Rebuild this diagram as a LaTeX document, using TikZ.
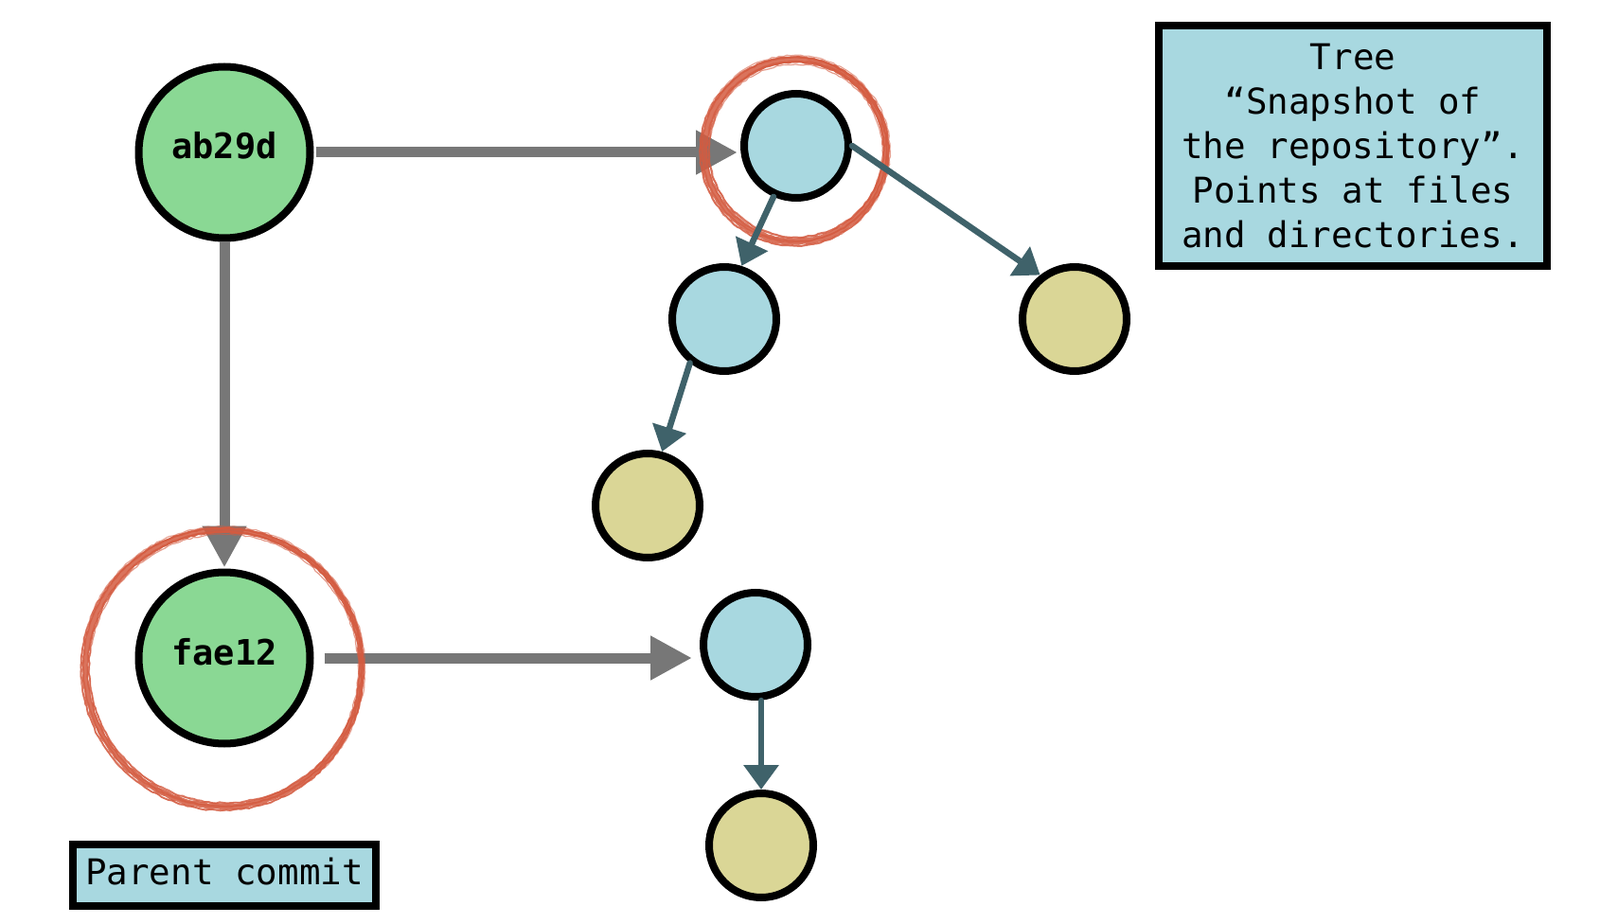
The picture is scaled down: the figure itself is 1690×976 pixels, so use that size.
\documentclass[tikz,border=0pt]{standalone}
\usepackage{fontspec}
\newfontfamily\monof{DejaVu Sans Mono}
\usetikzlibrary{arrows.meta,calc,decorations.pathmorphing}
\definecolor{commitgreen}{HTML}{8AD894}
\definecolor{treeblue}{HTML}{A8D8E0}
\definecolor{blobyellow}{HTML}{DAD696}
\definecolor{arrowgray}{HTML}{777777}
\definecolor{arrowteal}{HTML}{3F626A}
\definecolor{ringred}{HTML}{D45B40}
\tikzset{
  commit/.style={circle, draw=black, line width=8pt, fill=commitgreen, minimum size=181pt,
    inner sep=0pt, outer sep=4pt, font=\monof\bfseries\fontsize{37}{42}\selectfont,
    text height=27pt, text depth=13pt},
  treenode/.style={circle, draw=black, line width=8pt, fill=treeblue, minimum size=110pt,
    inner sep=0pt, outer sep=4pt},
  blobnode/.style={treenode, fill=blobyellow},
  notebox/.style={rectangle, draw=black, line width=8pt, fill=treeblue, inner sep=0pt, outer sep=4pt},
  grayarrow/.style={draw=arrowgray, line width=11pt, -{Triangle[length=44pt,width=44pt]}},
  tealarrow/.style={draw=arrowteal, line width=6.5pt, line cap=round, -{Triangle[length=26pt,width=36pt]}},
  ringline/.style={draw=ringred, decorate, decoration={random steps, segment length=4pt, amplitude=0.7pt}}
}
\begin{document}
\begin{tikzpicture}[x=1pt,y=-1pt]
\useasboundingbox[fill=white] (0,0) rectangle (1690,976);

% nodes
\node[commit] (ab29d) at (237,161) {ab29d};
\node[commit] (fae12) at (237,695) {fae12};
\node[treenode] (tree1) at (841,154) {};
\node[treenode] (tree2) at (765,337) {};
\node[blobnode] (blob1) at (684,534) {};
\node[blobnode] (blob2) at (1135,337) {};
\node[treenode] (tree3) at (798,681) {};
\node[blobnode] (blob3) at (804,893) {};

\node[notebox, minimum width=410pt, minimum height=254pt, align=center,
  font=\monof\fontsize{37.5}{47}\selectfont] (treebox) at (1429,154)
  {Tree\\“Snapshot of\\the repository”.\\Points at files\\and directories.};
\node[notebox, minimum width=320pt, minimum height=65pt,
  font=\monof\fontsize{37.5}{42}\selectfont, text height=28pt, text depth=9pt]
  (parentbox) at (237,924.5) {Parent commit};

% gray arrows
\draw[grayarrow, shorten <=2pt, shorten >=3pt] (ab29d.east) -- (ab29d.east -| tree1.west);
\draw[grayarrow, shorten >=1pt] (ab29d.south) -- (fae12.north);
\draw[grayarrow, shorten <=11pt, shorten >=8pt] (fae12.east) -- (fae12.east -| tree3.west);

% red brushed rings
\coordinate (ring1) at ($(tree1)+(-1,5)$);
\coordinate (ring2) at ($(fae12)+(-1,11)$);
\foreach \dx/\dy/\r/\w/\o in {0/0/96/7/0.85, 1/-1/92.5/2/0.8, -1/1/99.5/2/0.8, 0.5/0.5/91.5/1.2/0.6, -0.5/0/100.5/1.2/0.55, 1.5/0.5/95/1.5/0.7, -1/-1/97.5/1.5/0.7}
  \draw[ringline, line width=\w pt, opacity=\o] ($(ring1)+(\dx,\dy)$) circle[radius=\r pt];
\foreach \dx/\dy/\r/\w/\o in {0/0/146/6/0.85, 1/-1/143/1.8/0.8, -1/1/149/1.8/0.8, 0.5/0.5/142/1.2/0.6, -0.5/0/150/1.2/0.55, 1.5/0.5/145/1.5/0.7, -1/-1/147/1.5/0.7}
  \draw[ringline, line width=\w pt, opacity=\o] ($(ring2)+(\dx,\dy)$) circle[radius=\r pt];

% teal arrows
\draw[tealarrow] (tree1.246) -- (tree2.72);
\draw[tealarrow] (tree1.east) -- (blob2.128);
\draw[tealarrow] (tree2.232) -- (blob1.75);
\draw[tealarrow] (tree3.south -| blob3.north) -- (blob3.north);
\end{tikzpicture}
\end{document}
